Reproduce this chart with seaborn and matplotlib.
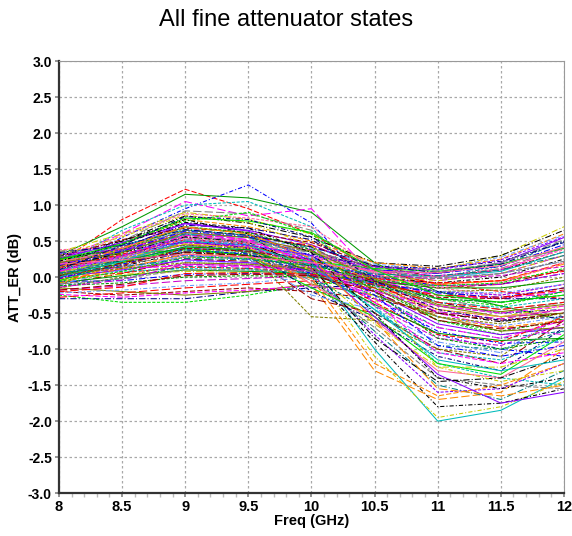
import numpy as np
import pandas as pd
import matplotlib
matplotlib.use("Agg")
import matplotlib.pyplot as plt
from matplotlib.ticker import MultipleLocator
import seaborn as sns

freqs = [8.0, 8.5, 9.0, 9.5, 10.0, 10.5, 11.0, 11.5, 12.0]
x_ticks = [8, 8.5, 9, 9.5, 10, 10.5, 11, 11.5, 12]
x_tick_labels = ["8", "8.5", "9", "9.5", "10", "10.5", "11", "11.5", "12"]
y_ticks = [-3.0, -2.5, -2.0, -1.5, -1.0, -0.5, 0.0, 0.5, 1.0, 1.5, 2.0, 2.5, 3.0]

# attenuation error (dB) per fine attenuator state, read at each frequency
states = [
    [0.20, 0.80, 1.22, 0.95, 0.60, 0.10, -0.10, -0.20, -0.30],
    [0.30, 0.70, 1.15, 1.10, 0.90, 0.20, -0.20, -0.40, -0.60],
    [0.10, 0.55, 0.95, 1.28, 0.75, -0.20, -0.80, -1.00, -1.10],
    [0.25, 0.60, 1.05, 0.85, 0.95, 0.00, -0.50, -0.70, -0.80],
    [0.15, 0.65, 1.00, 1.05, 0.70, -0.40, -1.20, -1.40, -1.50],
    [0.35, 0.60, 0.90, 0.80, 0.60, 0.15, 0.10, 0.30, 0.70],
    [0.30, 0.50, 0.85, 0.75, 0.55, 0.20, 0.15, 0.30, 0.65],
    [0.20, 0.45, 0.80, 0.70, 0.50, 0.20, 0.12, 0.25, 0.60],
    [0.25, 0.40, 0.75, 0.65, 0.45, 0.10, 0.05, 0.20, 0.55],
    [0.10, 0.35, 0.70, 0.60, 0.40, 0.05, 0.00, 0.15, 0.50],
    [0.05, 0.50, 0.92, 0.88, 0.65, 0.05, -0.30, -0.45, -0.35],
    [0.22, 0.58, 0.88, 0.82, 0.70, 0.12, -0.15, -0.25, -0.10],
    [0.18, 0.48, 0.78, 0.90, 0.60, -0.10, -0.60, -0.80, -0.70],
    [0.12, 0.42, 0.72, 0.68, 0.52, 0.00, -0.35, -0.50, -0.45],
    [0.28, 0.52, 0.68, 0.62, 0.48, 0.15, 0.00, 0.10, 0.35],
    [0.08, 0.38, 0.65, 0.58, 0.42, -0.05, -0.40, -0.55, -0.50],
    [0.32, 0.45, 0.62, 0.55, 0.40, 0.18, 0.10, 0.28, 0.58],
    [0.16, 0.36, 0.60, 0.52, 0.38, 0.08, -0.05, 0.05, 0.30],
    [0.24, 0.40, 0.58, 0.56, 0.44, 0.10, -0.10, -0.05, 0.20],
    [0.04, 0.30, 0.55, 0.50, 0.35, -0.15, -0.60, -0.75, -0.60],
    [0.20, 0.30, 0.50, 0.45, 0.30, 0.10, 0.05, 0.15, 0.45],
    [0.15, 0.25, 0.45, 0.40, 0.28, 0.08, 0.02, 0.10, 0.40],
    [0.10, 0.22, 0.42, 0.38, 0.25, 0.05, 0.00, 0.08, 0.35],
    [0.05, 0.18, 0.38, 0.35, 0.22, 0.02, -0.05, 0.05, 0.30],
    [0.00, 0.15, 0.35, 0.32, 0.20, 0.00, -0.08, 0.00, 0.25],
    [-0.05, 0.12, 0.32, 0.30, 0.18, -0.02, -0.10, -0.05, 0.18],
    [0.18, 0.28, 0.40, 0.36, 0.26, 0.00, -0.20, -0.25, -0.10],
    [0.12, 0.20, 0.36, 0.34, 0.24, -0.05, -0.30, -0.35, -0.20],
    [0.08, 0.18, 0.30, 0.28, 0.20, -0.10, -0.40, -0.50, -0.35],
    [0.02, 0.14, 0.28, 0.26, 0.15, -0.12, -0.45, -0.55, -0.45],
    [0.26, 0.32, 0.38, 0.30, 0.22, 0.12, 0.08, 0.18, 0.40],
    [0.30, 0.35, 0.44, 0.40, 0.32, 0.15, 0.12, 0.22, 0.48],
    [-0.10, 0.05, 0.25, 0.22, 0.12, -0.05, -0.15, -0.10, 0.10],
    [-0.15, 0.00, 0.20, 0.18, 0.10, -0.08, -0.20, -0.18, 0.00],
    [0.14, 0.16, 0.22, 0.20, 0.14, 0.05, 0.00, 0.05, 0.22],
    [0.06, 0.10, 0.18, 0.16, 0.10, 0.02, -0.02, 0.02, 0.15],
    [-0.02, 0.06, 0.14, 0.12, 0.08, -0.02, -0.08, -0.05, 0.08],
    [-0.08, 0.02, 0.10, 0.08, 0.05, -0.06, -0.15, -0.15, -0.05],
    [0.20, 0.26, 0.30, 0.25, 0.18, 0.02, -0.12, -0.10, 0.05],
    [0.10, 0.12, 0.16, 0.14, 0.10, -0.04, -0.25, -0.30, -0.20],
    [0.04, 0.08, 0.12, 0.10, 0.06, -0.10, -0.35, -0.42, -0.30],
    [-0.04, 0.04, 0.08, 0.06, 0.02, -0.15, -0.45, -0.55, -0.40],
    [0.16, 0.22, 0.34, 0.30, 0.18, -0.08, -0.50, -0.62, -0.50],
    [0.24, 0.30, 0.46, 0.42, 0.28, -0.05, -0.55, -0.70, -0.60],
    [0.00, 0.10, 0.24, 0.20, 0.10, -0.20, -0.65, -0.80, -0.70],
    [-0.12, -0.02, 0.15, 0.12, 0.04, -0.25, -0.70, -0.85, -0.75],
    [0.36, 0.40, 0.52, 0.48, 0.34, 0.10, 0.00, 0.12, 0.42],
    [0.38, 0.42, 0.56, 0.50, 0.36, 0.05, -0.15, -0.08, 0.20],
    [-0.25, -0.35, -0.35, -0.25, -0.10, -0.05, -0.30, -0.40, -0.20],
    [-0.30, -0.30, -0.30, -0.20, -0.15, -0.10, -0.20, -0.30, -0.30],
    [-0.20, -0.25, -0.20, -0.15, -0.20, -0.30, -0.50, -0.60, -0.50],
    [-0.15, -0.20, -0.25, -0.20, -0.10, -0.25, -0.55, -0.75, -0.70],
    [-0.22, -0.18, -0.12, -0.08, 0.00, -0.10, -0.20, -0.22, -0.10],
    [-0.18, -0.12, -0.05, -0.02, 0.02, -0.05, -0.12, -0.10, 0.05],
    [-0.28, -0.22, -0.15, -0.10, -0.05, -0.15, -0.35, -0.45, -0.35],
    [-0.12, -0.08, 0.00, 0.02, 0.00, -0.12, -0.30, -0.35, -0.25],
    [-0.06, -0.05, 0.04, 0.05, 0.04, -0.08, -0.22, -0.28, -0.15],
    [-0.24, -0.28, -0.22, -0.18, -0.12, -0.20, -0.40, -0.50, -0.40],
    [0.00, 0.30, 0.60, 0.55, 0.20, -1.00, -2.00, -1.85, -1.40],
    [0.05, 0.40, 0.70, 0.60, 0.10, -1.10, -1.95, -1.80, -1.45],
    [0.15, 0.50, 0.80, 0.60, 0.00, -0.90, -1.80, -1.75, -1.55],
    [-0.10, 0.20, 0.50, 0.40, -0.10, -1.30, -1.70, -1.60, -1.00],
    [0.00, 0.30, 0.55, 0.40, 0.05, -0.80, -1.60, -1.55, -1.20],
    [0.10, 0.35, 0.60, 0.45, 0.00, -0.75, -1.50, -1.70, -1.30],
    [0.05, 0.25, 0.45, 0.35, -0.05, -0.70, -1.40, -1.50, -1.55],
    [0.20, 0.40, 0.70, 0.50, -0.10, -0.60, -1.30, -1.40, -0.90],
    [-0.05, 0.20, 0.40, 0.30, -0.15, -0.55, -1.20, -1.35, -0.80],
    [0.10, 0.30, 0.50, 0.40, -0.20, -0.60, -1.10, -1.30, -0.70],
    [0.00, 0.20, 0.35, 0.30, -0.30, -0.50, -1.00, -1.20, -0.60],
    [0.15, 0.30, 0.45, 0.35, -0.55, -0.60, -1.00, -1.10, -0.50],
    [-0.10, 0.10, 0.30, 0.25, -0.25, -0.45, -0.90, -1.05, -0.50],
    [0.08, 0.28, 0.48, 0.42, 0.12, -0.40, -0.85, -0.95, -0.65],
    [0.12, 0.32, 0.52, 0.46, 0.15, -0.35, -0.80, -0.90, -0.55],
    [0.02, 0.22, 0.42, 0.38, 0.08, -0.38, -0.78, -0.88, -0.85],
    [-0.02, 0.18, 0.38, 0.32, 0.05, -0.30, -0.75, -0.92, -0.90],
    [0.18, 0.38, 0.62, 0.52, 0.18, -0.30, -0.70, -0.85, -0.60],
    [0.22, 0.44, 0.66, 0.58, 0.25, -0.45, -1.05, -1.15, -0.85],
    [0.06, 0.26, 0.46, 0.40, 0.10, -0.65, -1.25, -1.25, -1.00],
    [0.14, 0.34, 0.56, 0.48, 0.14, -0.85, -1.45, -1.40, -1.10],
    [-0.08, 0.12, 0.32, 0.28, -0.02, -1.20, -1.65, -1.50, -1.20],
    [0.26, 0.48, 0.74, 0.64, 0.22, -0.55, -1.35, -1.75, -1.60],
    [0.04, 0.24, 0.40, 0.36, 0.00, -0.50, -0.95, -1.00, -0.75],
    [0.28, 0.36, 0.58, 0.50, 0.36, 0.14, 0.08, 0.20, 0.52],
    [0.12, 0.28, 0.54, 0.48, 0.30, 0.06, 0.00, 0.12, 0.38],
    [-0.06, 0.08, 0.28, 0.26, 0.16, -0.04, -0.12, -0.08, 0.12],
    [0.34, 0.44, 0.66, 0.58, 0.42, 0.16, 0.06, 0.18, 0.50],
    [0.02, 0.16, 0.40, 0.36, 0.24, -0.06, -0.28, -0.30, -0.15],
    [0.20, 0.34, 0.62, 0.55, 0.36, -0.02, -0.38, -0.48, -0.38],
    [0.10, 0.26, 0.52, 0.46, 0.28, -0.12, -0.55, -0.68, -0.55],
    [-0.14, -0.04, 0.18, 0.16, 0.08, -0.18, -0.48, -0.58, -0.45],
    [-0.20, -0.14, 0.05, 0.06, 0.04, -0.10, -0.25, -0.28, -0.18],
    [0.26, 0.38, 0.70, 0.62, 0.38, -0.20, -0.85, -1.00, -0.85],
    [0.16, 0.36, 0.64, 0.56, 0.30, -0.25, -0.95, -1.10, -0.95],
    [0.08, 0.30, 0.58, 0.50, 0.22, -0.35, -1.05, -1.20, -1.05],
    [0.00, 0.22, 0.50, 0.44, 0.16, -0.45, -1.15, -1.30, -1.15],
    [0.30, 0.56, 0.86, 0.76, 0.44, -0.30, -1.25, -1.45, -1.30],
    [0.22, 0.46, 0.76, 0.68, 0.34, -0.50, -1.40, -1.55, -1.40],
    [0.14, 0.40, 0.70, 0.60, 0.26, -0.60, -1.55, -1.65, -1.50],
    [0.32, 0.38, 0.48, 0.44, 0.30, 0.14, 0.10, 0.24, 0.56],
    [0.06, 0.14, 0.26, 0.24, 0.16, 0.04, 0.02, 0.10, 0.30],
    [-0.10, -0.02, 0.10, 0.10, 0.08, 0.00, -0.02, 0.05, 0.22],
    [0.18, 0.24, 0.32, 0.28, 0.20, 0.08, 0.06, 0.16, 0.42],
    [0.24, 0.46, 0.82, 0.78, 0.62, 0.10, -0.25, -0.35, -0.25],
    [0.10, 0.44, 0.84, 0.80, 0.56, -0.05, -0.45, -0.60, -0.55],
    [-0.18, -0.10, 0.02, 0.04, 0.02, -0.20, -0.60, -0.72, -0.62],
    [0.04, 0.12, 0.20, 0.18, 0.12, -0.15, -0.55, -0.65, -0.50],
]

colors = ["#ff0000", "#009900", "#0000ff", "#ff00ff", "#00bbbb", "#cccc00",
          "#000000", "#ff8800", "#8800ff", "#008080", "#808080", "#ff6699",
          "#00dd00", "#000080", "#990000", "#808000", "#6699ff", "#cc00cc"]
dash_styles = [(5, 2), (6, 2, 1, 2), (3, 1.5), (8, 3), (4, 2, 1, 2), ""]

rows = []
for i, vals in enumerate(states):
    for f, v in zip(freqs, vals):
        rows.append({"state": f"S{i}", "freq": f, "att": v})
df = pd.DataFrame(rows)

n = len(states)
palette = [colors[i % len(colors)] for i in range(n)]
dashes = [dash_styles[(i * 5 + i // 6) % len(dash_styles)] for i in range(n)]

sns.set_theme(style="white")
plt.rcParams["font.family"] = ["Liberation Sans", "DejaVu Sans"]
plt.rcParams["text.color"] = "black"
plt.rcParams["axes.labelcolor"] = "black"

fig = plt.figure(figsize=(5.72, 5.36), dpi=100)
ax = fig.add_axes([0.103, 0.080, 0.883, 0.806])

sns.lineplot(data=df, x="freq", y="att", hue="state", style="state",
             palette=palette, dashes=dashes, linewidth=0.75, legend=False,
             ax=ax, sort=False, estimator=None)

ax.set_xlim(8, 12)
ax.set_ylim(-3, 3)
ax.set_xticks(x_ticks)
ax.set_xticklabels(x_tick_labels, fontsize=10.5, fontweight="bold")
ax.set_yticks(y_ticks)
ax.set_yticklabels([f"{v:.1f}" for v in y_ticks], fontsize=10, fontweight="bold")
ax.xaxis.set_minor_locator(MultipleLocator(0.1))
ax.tick_params(axis="x", which="minor", length=3, color="#bbbbbb", direction="out", bottom=True)
ax.tick_params(axis="x", which="major", length=3, color="#888888", pad=2, bottom=True, labelcolor="black")
ax.tick_params(axis="y", which="major", length=3, color="#888888", pad=2, left=True, labelcolor="black")

ax.grid(True, which="major", color="#a8a8a8", linestyle=(0, (2, 2)), linewidth=0.9)
ax.set_axisbelow(True)

for side in ["left", "bottom"]:
    ax.spines[side].set_color("#333333")
    ax.spines[side].set_linewidth(1.6)
for side in ["top", "right"]:
    ax.spines[side].set_color("#999999")
    ax.spines[side].set_linewidth(0.8)

ax.set_xlabel("Freq (GHz)", fontsize=10.5, fontweight="bold", labelpad=0, color="black")
ax.set_ylabel("ATT_ER (dB)", fontsize=10.5, fontweight="bold", labelpad=4, color="black")
fig.suptitle("All fine attenuator states", fontsize=17, y=0.983, va="top", color="black")

fig.savefig("out.png", dpi=100)
